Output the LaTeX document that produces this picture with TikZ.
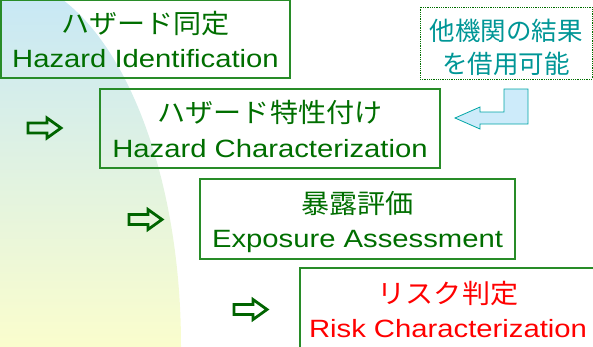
\documentclass[tikz,border=0pt]{standalone}
\usepackage{fontspec}
\setmainfont{Liberation Sans}[FakeStretch=1.17]
\newfontfamily\jpfont{Noto Sans CJK JP}[FakeStretch=1.06]
\newfontfamily\notefont{Noto Sans CJK JP}
\definecolor{labelgreen}{RGB}{0,110,0}
\definecolor{framegreen}{RGB}{40,140,40}
\definecolor{markgreen}{RGB}{0,100,0}
\definecolor{noteteal}{RGB}{0,150,150}
\definecolor{arrowfill}{RGB}{205,235,250}
\definecolor{arrowline}{RGB}{0,165,165}
\definecolor{bgtop}{RGB}{200,232,245}
\definecolor{bgmid}{RGB}{228,243,222}
\definecolor{bgbottom}{RGB}{250,253,205}
\definecolor{riskred}{RGB}{255,0,0}
\tikzset{
  stagebox/.style={draw=framegreen, line width=1.5pt, inner sep=0pt},
  notebox/.style={draw=labelgreen, densely dotted, line width=0.8pt, inner sep=0pt},
  jplabel/.style={anchor=base, inner sep=0pt, text=labelgreen, font={\jpfont\fontsize{26.5}{30}\selectfont}},
  enlabel/.style={anchor=base, inner sep=0pt, text=labelgreen, font={\fontsize{25}{28}\selectfont}},
  notelabel/.style={anchor=base, inner sep=0pt, text=noteteal, font={\notefont\fontsize{25.5}{30}\selectfont}},
  stepmark/.pic={
    \draw[markgreen, line width=2.8pt, line join=miter]
      (0,-5) -- (19,-5) -- (19,-10) -- (33,0) -- (19,10) -- (19,5) -- (0,5) -- cycle;
  }
}

\begin{document}
\begin{tikzpicture}[x=1pt,y=-1pt]
      \clip (0,0) rectangle (593,346);
      % background
      \begin{scope}
        \clip (0,346) ellipse [x radius=181, y radius=369];
        \shade[top color=bgtop, middle color=bgmid, bottom color=bgbottom] (0,0) rectangle (181,346);
      \end{scope}
      % stages
      \node[stagebox, minimum width=289pt, minimum height=78pt] (ident) at (145.5,39) {};
      \node[stagebox, minimum width=340pt, minimum height=79pt] (charac) at (270,128.5) {};
      \node[stagebox, minimum width=315pt, minimum height=80pt] (expo) at (357.5,219) {};
      \node[stagebox, minimum width=296pt, minimum height=80pt] (risk) at (448,308) {};
      \node[jplabel] (identjp) at ([yshift=45pt]ident.south) {ハザード同定};
      \node[enlabel] (identen) at ([yshift=11.5pt]ident.south) {Hazard Identification};
      \node[jplabel] (characjp) at ([yshift=46pt]charac.south) {ハザード特性付け};
      \node[enlabel] (characen) at ([yshift=11.5pt]charac.south) {Hazard Characterization};
      \node[jplabel] (expojp) at ([yshift=46pt]expo.south) {暴露評価};
      \node[enlabel] (expoen) at ([yshift=12pt]expo.south) {Exposure Assessment};
      \node[jplabel, text=riskred] (riskjp) at ([yshift=45pt]risk.south) {リスク判定};
      \node[enlabel, text=riskred] (risken) at ([yshift=11pt]risk.south) {Risk Characterization};
      % note on other bodies
      \node[notebox, minimum width=172pt, minimum height=72pt] (borrow) at (506,43) {};
      \node[notelabel] (borrowa) at ([yshift=39pt]borrow.south) {他機関の結果};
      \node[notelabel] (borrowb) at ([yshift=5.5pt]borrow.south) {を借用可能};
      \draw[arrowline, fill=arrowfill, line width=0.8pt]
        (528,89) -- (504,89) -- (504,112) -- (480,112) -- (480,107) -- (455,118)
        -- (480,129) -- (480,124) -- (528,124) -- cycle;
      % step marks
      \pic at (28,128) {stepmark};
      \pic at (129,219.5) {stepmark};
      \pic at (234,309.5) {stepmark};
    \end{tikzpicture}
\end{document}
